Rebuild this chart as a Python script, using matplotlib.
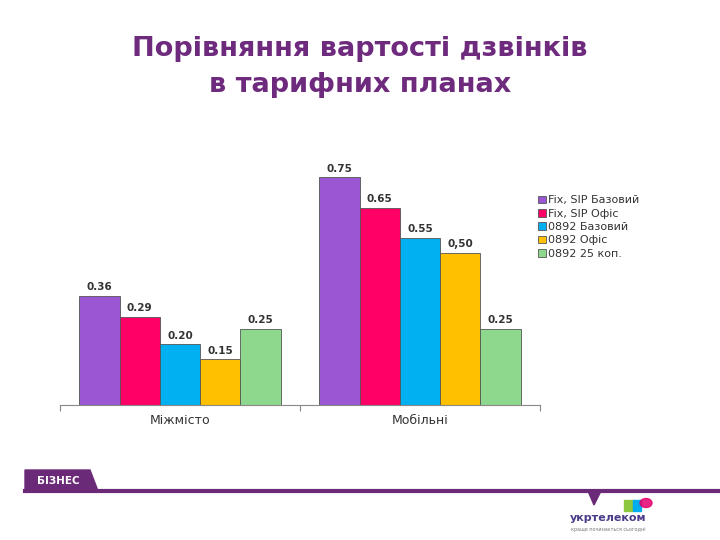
import matplotlib
matplotlib.use("Agg")
import matplotlib.pyplot as plt
import numpy as np
from matplotlib.patches import Polygon, Rectangle

categories = ["Міжмісто", "Мобільні"]
series = ["Fix, SIP Базовий", "Fix, SIP Офіс", "0892 Базовий", "0892 Офіс", "0892 25 коп."]
values = [
    [0.36, 0.75],
    [0.29, 0.65],
    [0.20, 0.55],
    [0.15, 0.50],
    [0.25, 0.25],
]
labels = [
    ["0.36", "0.75"],
    ["0.29", "0.65"],
    ["0.20", "0.55"],
    ["0.15", "0,50"],
    ["0.25", "0.25"],
]
colors = ["#9B57D3", "#FF0066", "#00B0F0", "#FFC000", "#8DD88C"]
title = "Порівняння вартості дзвінків\nв тарифних планах"
purple = "#6B2A78"

fig = plt.figure(figsize=(7.2, 5.4), dpi=100)
ax = fig.add_axes([60/720, 1-405/540, 480/720, 243/540])

n = len(series)
bw = 0.168
x = np.arange(len(categories))
for i in range(n):
    pos = x + (i - (n-1)/2) * bw
    ax.bar(pos, values[i], width=bw, color=colors[i], edgecolor="#555555", linewidth=0.6, label=series[i])
    for p, v, t in zip(pos, values[i], labels[i]):
        ax.text(p, v + 0.012, t, ha="center", va="bottom", fontsize=7.5, fontweight="bold", color="#333333")

ax.set_xlim(-0.5, 1.5)
ax.set_ylim(0, 0.8)
for s in ["top", "right", "left"]:
    ax.spines[s].set_visible(False)
ax.spines["bottom"].set_color("#888888")
ax.set_yticks([])
ax.set_xticks([-0.5, 0.5, 1.5])
ax.set_xticklabels([])
ax.tick_params(axis="x", length=4, color="#888888", direction="out")
for xi, c in zip(x, categories):
    ax.text(xi, -0.03, c, ha="center", va="top", fontsize=9, color="#333333", transform=ax.transData)

leg = ax.legend(loc="upper left", bbox_to_anchor=(474/480, (405-191)/243), frameon=False,
                fontsize=8, handlelength=0.7, handleheight=0.7, handletextpad=0.2,
                labelspacing=0.3, borderaxespad=0)
for t in leg.get_texts():
    t.set_color("#333333")

fig.text(0.5, 1-67/540, title, ha="center", va="center", fontsize=19.5, fontweight="bold",
         color="#6E2A7D", linespacing=1.5)

# footer
fy = 1 - 491/540
fig.add_artist(plt.Line2D([25/720, 1.0], [fy, fy], color=purple, linewidth=3, transform=fig.transFigure))
fig.add_artist(Polygon([[25/720, fy], [25/720, 1-470/540], [90/720, 1-470/540], [98/720, fy]],
                       closed=True, color=purple, transform=fig.transFigure))
fig.text(37/720, 1-481/540, "БІЗНЕС", fontsize=7.5, fontweight="bold", color="white", va="center", ha="left")
fig.add_artist(Polygon([[588/720, fy], [601/720, fy], [594/720, 1-505/540]], closed=True,
                       color=purple, transform=fig.transFigure))
fig.add_artist(Rectangle((624/720, 1-511/540), 9/720, 11/540, color="#8DC63F", transform=fig.transFigure))
fig.add_artist(Rectangle((633/720, 1-511/540), 8/720, 11/540, color="#00AEEF", transform=fig.transFigure))
fig.add_artist(plt.Circle((646/720, 1-503/540), 6/720, color="#E5006D", alpha=0.85, transform=fig.transFigure))
fig.text(570/720, 1-518/540, "укртелеком", fontsize=8, fontweight="bold", color="#4B3B8A", va="center")
fig.text(571/720, 1-530/540, "краще починається сьогодні", fontsize=3.5, color="#777777", va="center")

fig.savefig("out.png", dpi=100)
